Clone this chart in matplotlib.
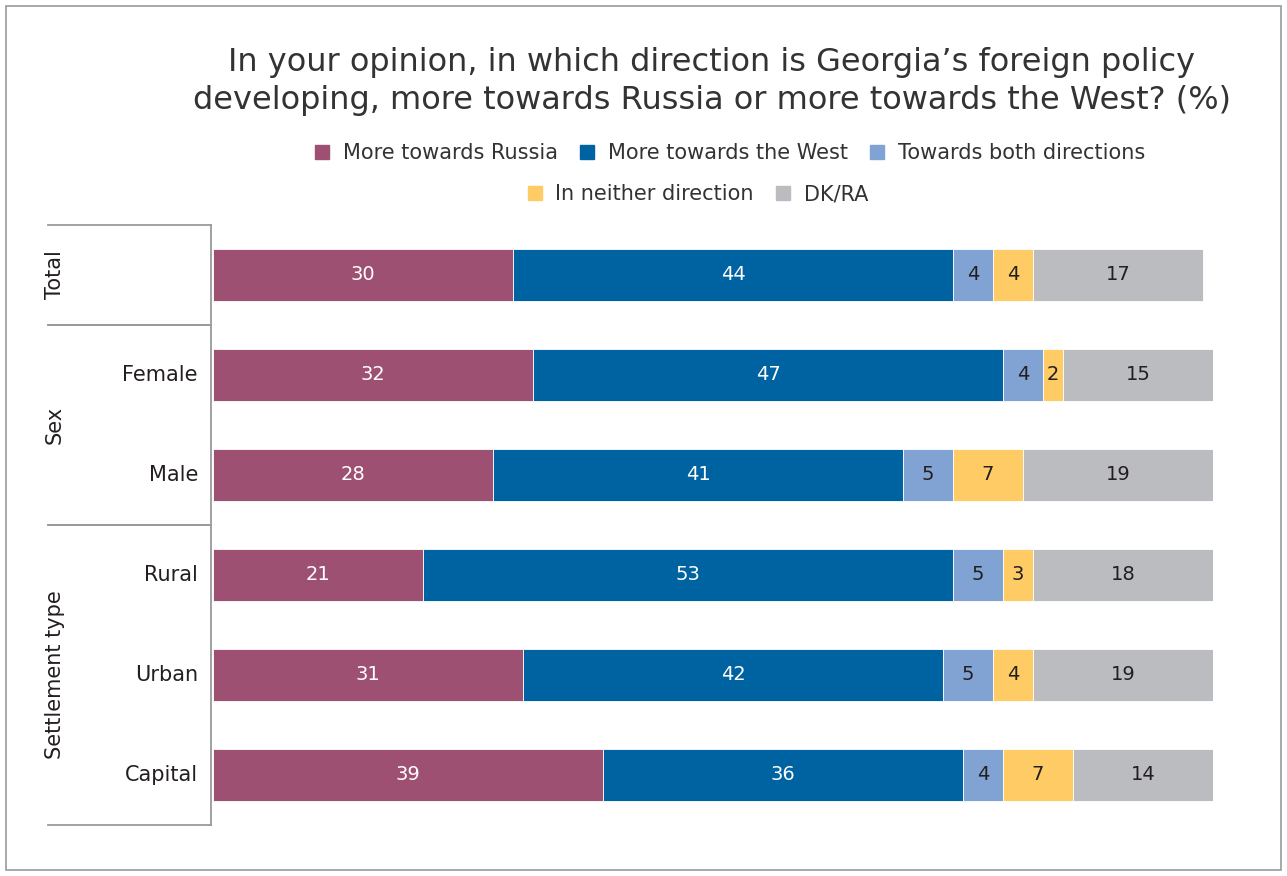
import matplotlib.pyplot as plt
from matplotlib.lines import Line2D
from matplotlib.patches import Rectangle

# survey answers, % per group
groups = ['Total', 'Female', 'Male', 'Rural', 'Urban', 'Capital']
russia = [30, 32, 28, 21, 31, 39]
west = [44, 47, 41, 53, 42, 36]
both = [4, 4, 5, 5, 5, 4]
neither = [4, 2, 7, 3, 4, 7]
dkra = [17, 15, 19, 18, 19, 14]

series_names = ['More towards Russia', 'More towards the West',
                'Towards both directions', 'In neither direction', 'DK/RA']
colors = ['#9E5072', '#0063A1', '#80A3D3', '#FECB65', '#BBBCBF']
label_colors = ['white', 'white', '#231F20', '#231F20', '#231F20']

# (name, first row, last row) for the left bracket
sections = [('Total', 0, 0), ('Sex', 1, 2), ('Settlement type', 3, 5)]

plt.rcParams['font.family'] = 'DejaVu Sans'
fig = plt.figure(figsize=(12.87, 8.76), dpi=100)
fig.patches.append(Rectangle((0.005, 0.007), 0.99, 0.986, transform=fig.transFigure,
                             fill=False, edgecolor='#9A9A9A', linewidth=1.2))

ax = fig.add_axes([213 / 1287, 51 / 876, 1000 / 1287, 600 / 876])

rows = range(len(groups))
left = [0] * len(groups)
for vals, name, col, lc in zip([russia, west, both, neither, dkra],
                               series_names, colors, label_colors):
    bars = ax.barh(rows, vals, left=left, height=0.52, color=col,
                   edgecolor='white', linewidth=0.6, label=name)
    ax.bar_label(bars, labels=[str(v) for v in vals], label_type='center',
                 color=lc, fontsize=14)
    left = [a + b for a, b in zip(left, vals)]

ax.set_xlim(0, 100)
ax.set_ylim(5.5, -0.5)
ax.axis('off')

# bracket with section names and row labels
trans = ax.get_yaxis_transform()
line_kw = dict(color='#9A9A9A', linewidth=1.3, transform=trans, clip_on=False)
ax.add_line(Line2D([-0.002, -0.002], [-0.5, 5.5], **line_kw))
for name, first, last in sections:
    for y in (first - 0.5, last + 0.5):
        ax.add_line(Line2D([-0.165, -0.002], [y, y], **line_kw))
    ax.text(-0.158, (first + last) / 2, name, transform=trans, rotation=90,
            ha='center', va='center', fontsize=15, color='#231F20')
for i, g in enumerate(groups):
    if g == 'Total':
        continue
    ax.text(-0.015, i, g, transform=trans, ha='right', va='center',
            fontsize=15, color='#231F20')

fig.text(0.553, 0.907, "In your opinion, in which direction is Georgia\u2019s foreign policy\n"
         "developing, more towards Russia or more towards the West? (%)",
         ha='center', va='center', fontsize=23, color='#333333', linespacing=1.32)

handles, labels = ax.get_legend_handles_labels()
square = [Line2D([], [], marker='s', linestyle='none', markersize=10, color=c)
          for c in colors]
leg_kw = dict(frameon=False, fontsize=15, handletextpad=0.5, columnspacing=0.9,
              handlelength=1.0, labelcolor='#333333')
fig.legend(square[:3], labels[:3], ncol=3, loc='center',
           bbox_to_anchor=(0.566, 0.825), **leg_kw)
fig.legend(square[3:], labels[3:], ncol=2, loc='center',
           bbox_to_anchor=(0.541, 0.778), **leg_kw)

fig.savefig('out.png', dpi=100)
